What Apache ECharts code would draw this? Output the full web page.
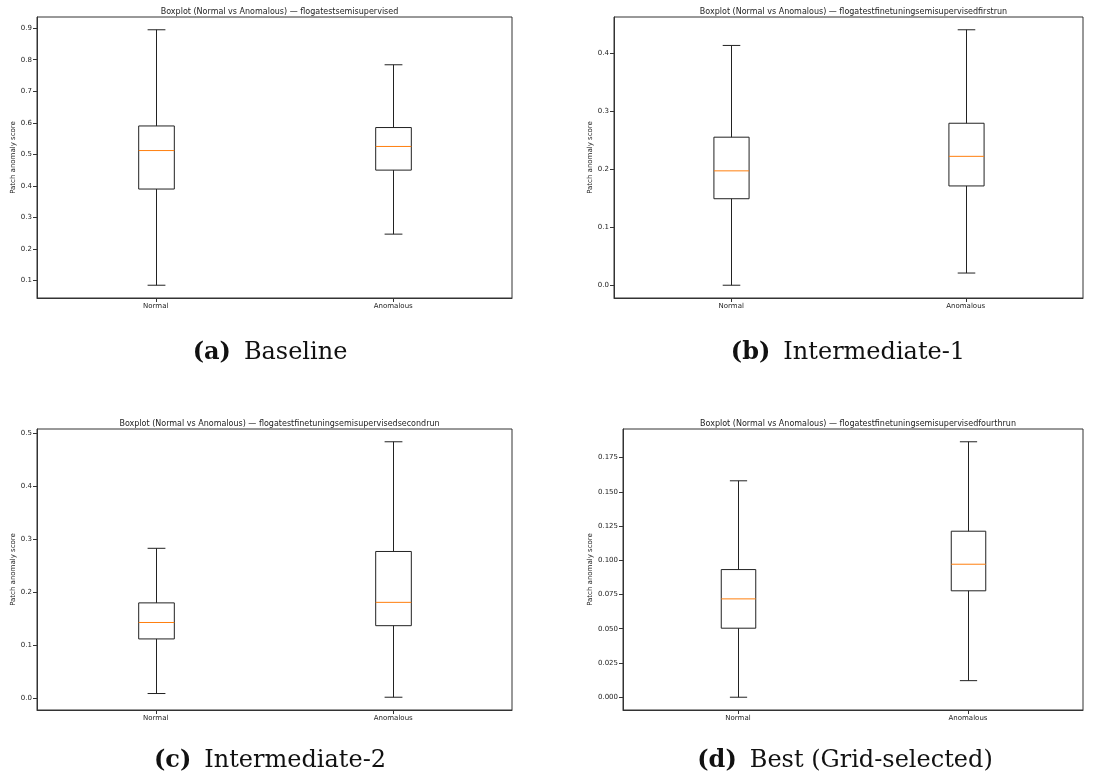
<!DOCTYPE html>
<html>
<head>
<meta charset="utf-8">
<script src="https://cdn.jsdelivr.net/npm/echarts@6/dist/echarts.min.js"></script>
<style>
html,body{margin:0;padding:0;background:#fff;}
#chart{width:1107px;height:782px;}
</style>
</head>
<body>
<div id="chart"></div>
<script>
// ---- data ----
const categories = ['Normal', 'Anomalous'];
const panelTitles = [
  'Boxplot (Normal vs Anomalous) — flogatestsemisupervised',
  'Boxplot (Normal vs Anomalous) — flogatestfinetuningsemisupervisedfirstrun',
  'Boxplot (Normal vs Anomalous) — flogatestfinetuningsemisupervisedsecondrun',
  'Boxplot (Normal vs Anomalous) — flogatestfinetuningsemisupervisedfourthrun'
];
const captionTags = ['(a)', '(b)', '(c)', '(d)'];
const captionNames = ['Baseline', 'Intermediate-1', 'Intermediate-2', 'Best (Grid-selected)'];
const yAxisName = 'Patch anomaly score';
// [min, Q1, median, Q3, max] per category
const baselineStats = [[0.085, 0.390, 0.512, 0.590, 0.895], [0.247, 0.450, 0.525, 0.585, 0.784]];
const inter1Stats   = [[0.000, 0.149, 0.197, 0.255, 0.413], [0.021, 0.171, 0.222, 0.279, 0.440]];
const inter2Stats   = [[0.009, 0.112, 0.143, 0.180, 0.283], [0.002, 0.137, 0.181, 0.277, 0.484]];
const bestStats     = [[0.000, 0.0504, 0.0718, 0.0932, 0.158], [0.0121, 0.0777, 0.0971, 0.1212, 0.1865]];
const ticksA = [0.1, 0.2, 0.3, 0.4, 0.5, 0.6, 0.7, 0.8, 0.9];
const ticksB = [0.0, 0.1, 0.2, 0.3, 0.4];
const ticksC = [0.0, 0.1, 0.2, 0.3, 0.4, 0.5];
const ticksD = [0.000, 0.025, 0.050, 0.075, 0.100, 0.125, 0.150, 0.175];
const tickDecimals = [1, 1, 1, 3];

// ---- layout ----
const grids = [
  {left: 37, top: 17, width: 475, height: 281},
  {left: 614, top: 17, width: 469, height: 281},
  {left: 37, top: 429, width: 475, height: 281},
  {left: 623, top: 429, width: 460, height: 281}
];
const yNameGaps = [18, 18, 18, 27];
const titleTops = [3, 3, 415, 415];
const captionPos = [[265, 351], [843, 351], [265, 759], [840, 759]];

const allStats = [baselineStats, inter1Stats, inter2Stats, bestStats];
const allTicks = [ticksA, ticksB, ticksC, ticksD];

function extent(stats) {
  let lo = Infinity, hi = -Infinity;
  stats.forEach(s => { lo = Math.min(lo, s[0]); hi = Math.max(hi, s[4]); });
  const pad = (hi - lo) * 0.05;
  return [lo - pad, hi + pad];
}

function renderBox(params, api) {
  const x = api.value(0);
  const mn = api.coord([x, api.value(1)]);
  const q1 = api.coord([x, api.value(2)]);
  const md = api.coord([x, api.value(3)]);
  const q3 = api.coord([x, api.value(4)]);
  const mx = api.coord([x, api.value(5)]);
  const band = api.size([1, 0])[0];
  const bw = band * 0.15;
  const cx = Math.round(mn[0]) + 0.5;
  const black = {stroke: '#222', lineWidth: 1, fill: null};
  return {
    type: 'group',
    children: [
      {type: 'line', shape: {x1: cx, y1: mn[1], x2: cx, y2: q1[1]}, style: black},
      {type: 'line', shape: {x1: cx, y1: q3[1], x2: cx, y2: mx[1]}, style: black},
      {type: 'line', shape: {x1: cx - bw / 4, y1: mn[1], x2: cx + bw / 4, y2: mn[1]}, style: black},
      {type: 'line', shape: {x1: cx - bw / 4, y1: mx[1], x2: cx + bw / 4, y2: mx[1]}, style: black},
      {type: 'rect', shape: {x: cx - bw / 2, y: q3[1], width: bw, height: q1[1] - q3[1]}, style: {stroke: '#222', lineWidth: 1, fill: 'none'}},
      {type: 'line', shape: {x1: cx - bw / 2, y1: md[1], x2: cx + bw / 2, y2: md[1]}, style: {stroke: '#ff7f0e', lineWidth: 1}}
    ]
  };
}

const option = {
  backgroundColor: '#fff',
  animation: false,
  title: [],
  grid: [],
  xAxis: [],
  yAxis: [],
  series: []
};

for (let i = 0; i < 4; i++) {
  const g = grids[i];
  option.grid.push({left: g.left, top: g.top, width: g.width, height: g.height,
    show: true, borderColor: '#333', borderWidth: 1, backgroundColor: '#fff'});
  option.title.push({
    text: panelTitles[i], left: g.left + g.width / 2, top: titleTops[i], textAlign: 'center',
    textStyle: {fontFamily: 'DejaVu Sans', fontSize: 8, fontWeight: 'normal', color: '#222'}
  });
  option.title.push({
    text: '{b|' + captionTags[i] + '}{r|' + captionNames[i] + '}',
    left: captionPos[i][0], top: captionPos[i][1] - 15, textAlign: 'center',
    textStyle: {
      rich: {
        b: {fontFamily: 'DejaVu Serif', fontSize: 24, fontWeight: 'bold', color: '#111', padding: [0, 13, 0, 0]},
        r: {fontFamily: 'DejaVu Serif', fontSize: 24, fontWeight: 'normal', color: '#111'}
      }
    }
  });
  option.xAxis.push({
    type: 'category', gridIndex: i, data: categories, boundaryGap: true,
    axisLine: {show: true, onZero: false, lineStyle: {color: '#333', width: 1}},
    axisTick: {show: true, alignWithLabel: true, length: 4, lineStyle: {color: '#333'}},
    axisLabel: {fontFamily: 'DejaVu Sans', fontSize: 7, color: '#222', margin: 5},
    splitLine: {show: false}
  });
  const ext = extent(allStats[i]);
  const dec = tickDecimals[i];
  option.yAxis.push({
    type: 'value', gridIndex: i, min: ext[0], max: ext[1],
    name: yAxisName, nameLocation: 'middle', nameRotate: 90, nameGap: yNameGaps[i],
    nameTextStyle: {fontFamily: 'DejaVu Sans', fontSize: 7, color: '#222'},
    axisLine: {show: true, onZero: false, lineStyle: {color: '#333', width: 1}},
    axisTick: {show: true, length: 4, customValues: allTicks[i], lineStyle: {color: '#333'}},
    axisLabel: {fontFamily: 'DejaVu Sans', fontSize: 7, color: '#222', margin: 5,
      customValues: allTicks[i], formatter: v => Number(v).toFixed(dec)},
    splitLine: {show: false}
  });
  option.series.push({
    type: 'custom', xAxisIndex: i, yAxisIndex: i,
    renderItem: renderBox,
    encode: {x: 0, y: [1, 2, 3, 4, 5]},
    data: allStats[i].map((s, k) => [k].concat(s))
  });
}

const chart = echarts.init(document.getElementById('chart'), null, {renderer: 'canvas'});
chart.setOption(option);
</script>
</body>
</html>
